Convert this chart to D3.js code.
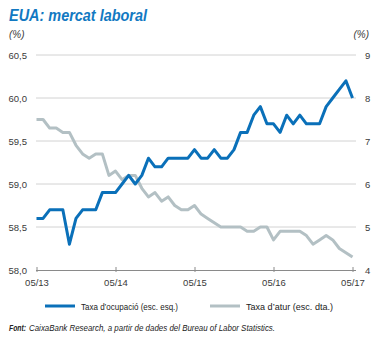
<!DOCTYPE html>
<html>
<head>
<meta charset="utf-8">
<script src="https://cdn.jsdelivr.net/npm/d3@7"></script>
<style>
  html, body { margin: 0; padding: 0; background: #fff; }
  svg { display: block; }
  text { font-family: "Liberation Sans", Arial, sans-serif; }
</style>
</head>
<body>
<svg id="chart" width="377" height="338"></svg>
<script>
// Monthly series, May 2013 – May 2017
const employmentRate = [
  58.6, 58.6, 58.7, 58.7, 58.7, 58.3, 58.6, 58.7, 58.7, 58.7,
  58.9, 58.9, 58.9, 59.0, 59.1, 59.0, 59.1, 59.3, 59.2, 59.2,
  59.3, 59.3, 59.3, 59.3, 59.4, 59.3, 59.3, 59.4, 59.3, 59.3,
  59.4, 59.6, 59.6, 59.8, 59.9, 59.7, 59.7, 59.6, 59.8, 59.7,
  59.8, 59.7, 59.7, 59.7, 59.9, 60.0, 60.1, 60.2, 60.0
];
const unemploymentRate = [
  7.5, 7.5, 7.3, 7.3, 7.2, 7.2, 6.9, 6.7, 6.6, 6.7,
  6.7, 6.2, 6.3, 6.1, 6.2, 6.2, 5.9, 5.7, 5.8, 5.6,
  5.7, 5.5, 5.4, 5.4, 5.5, 5.3, 5.2, 5.1, 5.0, 5.0,
  5.0, 5.0, 4.9, 4.9, 5.0, 5.0, 4.7, 4.9, 4.9, 4.9,
  4.9, 4.8, 4.6, 4.7, 4.8, 4.7, 4.5, 4.4, 4.3
];
const xTickIndex = [0, 12, 24, 36, 48];
const xTickLabels = ["05/13", "05/14", "05/15", "05/16", "05/17"];
const leftTicks = [58.0, 58.5, 59.0, 59.5, 60.0, 60.5];
const rightTicks = [4, 5, 6, 7, 8, 9];
const seriesNames = ["Taxa d\u2019ocupació (esc. esq.)", "Taxa d\u2019atur (esc. dta.)"];

const blue = "#0a70b9";
const grey = "#b3c0c4";
const textColor = "#3a3a3a";

const svg = d3.select("#chart");
svg.append("rect").attr("width", 377).attr("height", 338).attr("fill", "#fff");

const x = d3.scaleLinear().domain([0, 48]).range([36.5, 352.5]);
const yL = d3.scaleLinear().domain([58.0, 60.5]).range([270, 55]);
const yR = d3.scaleLinear().domain([4, 9]).range([270, 55]);

const gridX0 = 36, gridX1 = 356;

// Title and unit labels
svg.append("text")
  .attr("x", 9).attr("y", 21)
  .attr("font-size", 16.5).attr("font-weight", "bold").attr("font-style", "italic")
  .attr("fill", "#1279c2")
  .attr("textLength", 138).attr("lengthAdjust", "spacingAndGlyphs")
  .text("EUA: mercat laboral");

svg.append("text").attr("x", 9).attr("y", 38)
  .attr("font-size", 10).attr("font-style", "italic").attr("fill", textColor).text("(%)");
svg.append("text").attr("x", 369).attr("y", 38).attr("text-anchor", "end")
  .attr("font-size", 10).attr("font-style", "italic").attr("fill", textColor).text("(%)");

// Horizontal gridlines
svg.append("g").selectAll("line")
  .data(leftTicks.slice(1))
  .join("line")
  .attr("x1", gridX0).attr("x2", gridX1)
  .attr("y1", d => yL(d)).attr("y2", d => yL(d))
  .attr("stroke", "#d2d2d2").attr("stroke-width", 1);

// Left axis labels
const fmtL = d => d.toFixed(1).replace(".", ",");
svg.append("g").selectAll("text")
  .data(leftTicks)
  .join("text")
  .attr("x", 27).attr("y", d => yL(d) + 3.5)
  .attr("text-anchor", "end").attr("font-size", 9.5).attr("fill", textColor)
  .text(fmtL);

// Right axis labels
svg.append("g").selectAll("text")
  .data(rightTicks)
  .join("text")
  .attr("x", 365).attr("y", d => yR(d) + 3.5)
  .attr("font-size", 9.5).attr("fill", textColor)
  .text(d => d);

// Bottom axis
const xAxis = d3.axisBottom(x)
  .tickValues(xTickIndex)
  .tickFormat((d, i) => xTickLabels[i])
  .tickSize(3)
  .tickPadding(6);
const gx = svg.append("g").attr("transform", "translate(0,270)").call(xAxis);
gx.select(".domain").remove();
gx.append("line").attr("x1", gridX0).attr("x2", gridX1).attr("y1", 0.5).attr("y2", 0.5)
  .attr("stroke", "#8a8a8a").attr("stroke-width", 1.2);
gx.selectAll(".tick line").attr("y1", -3).attr("y2", 2).attr("stroke", "#8a8a8a");
gx.selectAll(".tick text")
  .attr("font-size", 9.5).attr("fill", textColor)
  .attr("font-family", "Liberation Sans, Arial, sans-serif");

// Series lines
const lineL = d3.line().x((d, i) => x(i)).y(d => yL(d));
const lineR = d3.line().x((d, i) => x(i)).y(d => yR(d));

svg.append("path").datum(unemploymentRate)
  .attr("d", lineR).attr("fill", "none")
  .attr("stroke", grey).attr("stroke-width", 3).attr("stroke-linejoin", "round");

svg.append("path").datum(employmentRate)
  .attr("d", lineL).attr("fill", "none")
  .attr("stroke", blue).attr("stroke-width", 3).attr("stroke-linejoin", "round");

// Legend
const legend = [
  { name: seriesNames[0], color: blue, x: 45, tx: 81, w: 97 },
  { name: seriesNames[1], color: grey, x: 210, tx: 246, w: 87 }
];
const lg = svg.append("g");
lg.selectAll("line").data(legend).join("line")
  .attr("x1", d => d.x).attr("x2", d => d.x + 30)
  .attr("y1", 306).attr("y2", 306)
  .attr("stroke", d => d.color).attr("stroke-width", 3);
lg.selectAll("text").data(legend).join("text")
  .attr("x", d => d.tx).attr("y", 309.5)
  .attr("font-size", 9).attr("fill", "#222")
  .attr("textLength", d => d.w).attr("lengthAdjust", "spacingAndGlyphs")
  .text(d => d.name);

// Source note: bold lead-in followed by the italic body
svg.append("text")
  .attr("x", 9).attr("y", 331)
  .attr("font-size", 8.8).attr("font-style", "italic").attr("font-weight", "bold")
  .attr("fill", "#222")
  .attr("textLength", 17).attr("lengthAdjust", "spacingAndGlyphs")
  .text("Font:");
svg.append("text")
  .attr("x", 29).attr("y", 331)
  .attr("font-size", 8.8).attr("font-style", "italic").attr("fill", "#222")
  .attr("textLength", 246).attr("lengthAdjust", "spacingAndGlyphs")
  .text("CaixaBank Research, a partir de dades del Bureau of Labor Statistics.");
</script>
</body>
</html>
